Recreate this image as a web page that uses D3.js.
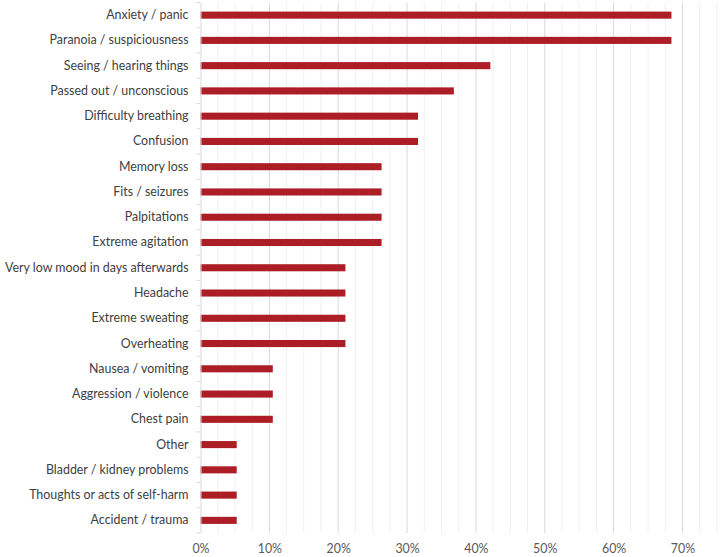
<!DOCTYPE html>
<html><head><meta charset="utf-8">
<script src="https://cdn.jsdelivr.net/npm/d3@7"></script>
<style>body{margin:0;background:#fff}svg{display:block}</style>
</head><body>
<svg id="c" width="720" height="557"></svg>
<script>
const categories = ["Anxiety / panic","Paranoia / suspiciousness","Seeing / hearing things","Passed out / unconscious","Difficulty breathing","Confusion","Memory loss","Fits / seizures","Palpitations","Extreme agitation","Very low mood in days afterwards","Headache","Extreme sweating","Overheating","Nausea / vomiting","Aggression / violence","Chest pain","Other","Bladder / kidney problems","Thoughts or acts of self-harm","Accident / trauma"];
const values = [0.684,0.684,0.421,0.368,0.316,0.316,0.263,0.263,0.263,0.263,0.2105,0.2105,0.2105,0.2105,0.105,0.105,0.105,0.0526,0.0526,0.0526,0.0526];
const tickValues = [0,0.1,0.2,0.3,0.4,0.5,0.6,0.7];

(function(){
const svg = d3.select("#c");
const left = 200.5, topY = 2.5, bottomY = 533;
const x = d3.scaleLinear().domain([0,0.75]).range([left, left + 0.75*688.5]);
const y = d3.scaleBand().domain(categories).range([topY, bottomY]).paddingInner(0.72).paddingOuter(0.36);
const font = "Lato, 'Liberation Sans', sans-serif";

// gridlines
const grid = d3.range(1, 31).map(i => i*0.025);
svg.append("g").selectAll("line").data(grid).join("line")
  .attr("x1", d=>x(d)).attr("x2", d=>x(d)).attr("y1", topY).attr("y2", bottomY)
  .attr("stroke", (d,i)=> ((i+1)%4===0) ? "#d9d9d9" : "#f0f0f0").attr("stroke-width",1);

// bars
svg.append("g").selectAll("rect").data(categories).join("rect")
  .attr("x", x(0)).attr("y", d=>y(d)).attr("height", y.bandwidth())
  .attr("width", (d,i)=> x(values[i]) - x(0)).attr("fill", "#AC1D26");

// y axis
const yAxis = d3.axisLeft(y).tickSize(0).tickPadding(12);
const gy = svg.append("g").attr("transform", `translate(${left},0)`).call(yAxis);
gy.select(".domain").attr("stroke","#d9d9d9");
gy.selectAll("text").attr("font-family", font).attr("font-size", 12.4).attr("fill","#404040");
// category boundary ticks
const bounds = d3.range(categories.length+1).map(i => topY + i*(bottomY-topY)/categories.length);
svg.append("g").selectAll("line").data(bounds).join("line")
  .attr("x1", left-4).attr("x2", left).attr("y1", d=>d).attr("y2", d=>d).attr("stroke","#d9d9d9");

// x axis labels
const xAxis = d3.axisBottom(x).tickValues(tickValues).tickFormat(d3.format(".0%")).tickSize(0).tickPadding(11);
const gx = svg.append("g").attr("transform", `translate(0,${bottomY})`).call(xAxis);
gx.select(".domain").remove();
gx.selectAll("text").attr("font-family", font).attr("font-size", 12.4).attr("fill","#595959");
})();
</script>
</body></html>
